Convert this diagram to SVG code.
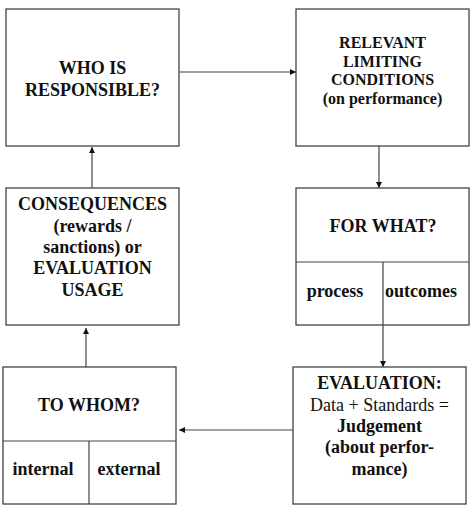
<svg xmlns="http://www.w3.org/2000/svg" width="474" height="524" viewBox="0 0 474 524">
<style>
rect.box{fill:#fff;stroke:#444;stroke-width:1.3}
line.div{stroke:#444;stroke-width:1.2}
.c line{stroke:#444;stroke-width:1.2}
text{font-family:'Liberation Serif','Tinos','DejaVu Serif',serif;font-size:18px;fill:#111;text-anchor:middle}
.b{font-weight:bold}
.s{font-size:16px}
</style>
<defs>
<marker id="ah" viewBox="0 0 10 10" refX="10" refY="5" markerWidth="6" markerHeight="6" markerUnits="userSpaceOnUse" orient="auto">
<path d="M0,0 L10,5 L0,10 z" fill="#111"/>
</marker>
</defs>
<rect width="474" height="524" fill="#fff"/>
<g class="c" id="connectors">
<line x1="179" y1="72" x2="296" y2="72" marker-end="url(#ah)"/>
<line x1="379" y1="146" x2="379" y2="188" marker-end="url(#ah)"/>
<line x1="383" y1="325" x2="383" y2="367" marker-end="url(#ah)"/>
<line x1="293" y1="430" x2="179" y2="430" marker-end="url(#ah)"/>
<line x1="86" y1="367" x2="86" y2="328" marker-end="url(#ah)"/>
<line x1="92" y1="188" x2="92" y2="147" marker-end="url(#ah)"/>
</g>
<g id="who">
<rect class="box" x="6" y="9" width="173" height="137"/>
<text class="b" x="92.5" y="74">WHO IS</text>
<text class="b" x="92.5" y="96">RESPONSIBLE?</text>
</g>
<g id="relevant">
<rect class="box" x="296" y="9" width="173" height="137"/>
<text class="b s" x="382.5" y="48">RELEVANT</text>
<text class="b s" x="382.5" y="67">LIMITING</text>
<text class="b s" x="382.5" y="85">CONDITIONS</text>
<text class="b s" x="382.5" y="104">(on performance)</text>
</g>
<g id="forwhat">
<rect class="box" x="296" y="188" width="173" height="137"/>
<line class="div" x1="296" y1="262" x2="469" y2="262"/>
<line class="div" x1="383" y1="262" x2="383" y2="325"/>
<text class="b" x="383" y="232">FOR WHAT?</text>
<text class="b" x="335" y="297">process</text>
<text class="b" x="421" y="297">outcomes</text>
</g>
<g id="consequences">
<rect class="box" x="6" y="188" width="173" height="137"/>
<text class="b" x="92.5" y="210">CONSEQUENCES</text>
<text class="b" x="92.5" y="232">(rewards /</text>
<text class="b" x="92.5" y="253">sanctions) or</text>
<text class="b" x="92.5" y="274">EVALUATION</text>
<text class="b" x="92.5" y="296">USAGE</text>
</g>
<g id="evaluation">
<rect class="box" x="293" y="367" width="173" height="137"/>
<text class="b" x="379.5" y="389">EVALUATION:</text>
<text x="379.5" y="411">Data + Standards =</text>
<text class="b" x="379.5" y="432">Judgement</text>
<text class="b" x="379.5" y="453">(about perfor-</text>
<text class="b" x="379.5" y="475">mance)</text>
</g>
<g id="towhom">
<rect class="box" x="3" y="367" width="173" height="137"/>
<line class="div" x1="3" y1="441" x2="176" y2="441"/>
<line class="div" x1="89" y1="441" x2="89" y2="504"/>
<text class="b" x="89" y="411">TO WHOM?</text>
<text class="b" x="43" y="475">internal</text>
<text class="b" x="129" y="475">external</text>
</g>
</svg>
